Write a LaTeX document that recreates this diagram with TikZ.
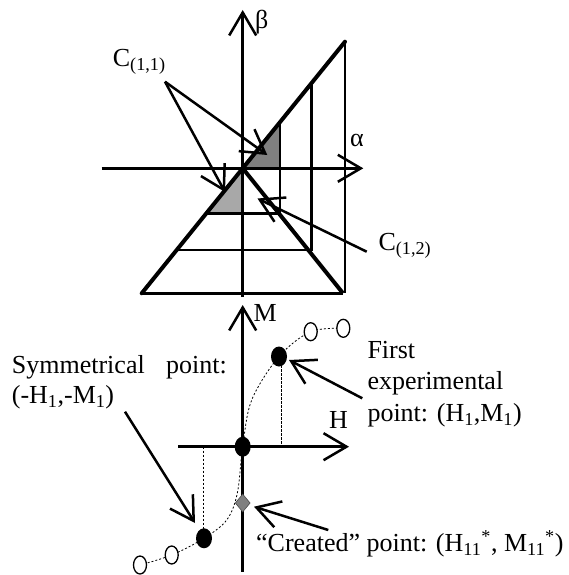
\documentclass[tikz,border=0pt]{standalone}
\usepackage{fontspec}
\setmainfont{Liberation Serif}
\usetikzlibrary{arrows.meta,shapes.geometric}
\definecolor{darkshade}{HTML}{808080}
\definecolor{lightshade}{HTML}{A8A8A8}
\definecolor{diamondgray}{HTML}{7F7F7F}
\begin{document}
\begin{tikzpicture}[x=1pt,y=-1pt,
  barb/.style={-{Straight Barb[length=23pt,width=27pt]}, line width=2.5pt},
  thinline/.style={line width=2.5pt},
  thickline/.style={line width=4pt},
  lbl/.style={inner sep=0pt, font=\fontsize{26}{31}\selectfont},
  fulldot/.style={ellipse, fill=black, minimum width=16pt, minimum height=20pt, inner sep=0pt},
  opendot/.style={ellipse, draw, fill=white, line width=1.3pt, minimum width=13pt, minimum height=18pt, inner sep=0pt},
  curve/.style={line width=0.8pt, dash pattern=on 2pt off 2pt},
  dropline/.style={line width=0.9pt, dash pattern=on 2.5pt off 1.5pt},
  gem/.style={diamond, fill=diamondgray, draw=black!70, line width=0.6pt, minimum width=15pt, minimum height=18pt, inner sep=0pt}
]
\useasboundingbox (0,0) rectangle (569,575);

% ---------- top figure ----------
\coordinate (O) at (242.7,168.3);
\coordinate (BL) at (141.7,293.3);
\coordinate (TR) at (345,41.7);
\coordinate (BR) at (343,293.3);
\coordinate (VB) at (345,293.3);
\coordinate (R1t) at (311.7,82.9);
\coordinate (R1b) at (311.7,250);
\coordinate (R1l) at (176.7,250);
\coordinate (R2t) at (280,122);
\coordinate (R2b) at (280,213.3);
\coordinate (R2l) at (206.3,213.3);
\coordinate (R2c) at (280,168.3);
\coordinate (R3b) at (242.7,213.3);

\fill[darkshade] (O) -- (R2t) -- (R2c) -- cycle;
\fill[lightshade] (O) -- (R3b) -- (R2l) -- cycle;

\draw[thinline] (TR) -- (VB);
\draw[thinline] (R1t) -- (R1b) -- (R1l);
\draw[thinline] (R2t) -- (R2b) -- (R2l);

\coordinate (bstart) at (242.7,297);
\coordinate (bend) at (242.7,10);
\coordinate (astart) at (101.7,168.3);
\coordinate (aend) at (363.3,168.3);
\draw[barb] (bstart) -- (bend);
\draw[barb] (astart) -- (aend);

\draw[thickline, line cap=round] (BL) -- (TR);
\draw[thickline] (O) -- (BR);
\draw[line width=3.5pt] (BL) -- (BR);

\node[lbl, anchor=base west] (beta) at (255,29) {β};
\node[lbl, anchor=base west] (alpha) at (350,146.7) {α};
\node[lbl, anchor=base west] (c11) at (112.7,66.7) {C\textsubscript{(1,1)}};
\node[lbl, anchor=base west] (c12) at (378.3,250) {C\textsubscript{(1,2)}};

\coordinate (c11tail) at (165,81.7);
\coordinate (c11tipA) at (267.3,155);
\coordinate (c11tipB) at (225,192);
\coordinate (c12tail) at (366.7,251.7);
\coordinate (c12tip) at (257.5,198.5);
\draw[barb] (c11tail) -- (c11tipA);
\draw[barb] (c11tail) -- (c11tipB);
\draw[barb] (c12tail) -- (c12tip);

% ---------- bottom figure ----------
\coordinate (Mstart) at (242.7,571.7);
\coordinate (Mend) at (242.7,305);
\coordinate (Hstart) at (178.3,446.7);
\coordinate (Hend) at (349,446.7);

\draw[curve] plot[smooth, tension=0.55] coordinates {(140,565) (171.7,555) (204,538.3) (226.7,520) (237.3,493.3) (242.7,446.7) (251.7,400) (279,356.5) (310.7,331.7) (343.3,328.3)};

\draw[dropline] (281,365) -- (281,446.7);
\draw[dropline] (203.3,446.7) -- (203.3,530);

\draw[barb] (Mstart) -- (Mend);
\draw[barb] (Hstart) -- (Hend);

\node[fulldot] (p0) at (242.7,446.7) {};
\node[fulldot] (p1) at (279,356.5) {};
\node[fulldot] (pm1) at (204,538.3) {};
\node[opendot] (u1) at (310.7,331.7) {};
\node[opendot] (u2) at (343.3,328.3) {};
\node[opendot] (l1) at (171.7,555) {};
\node[opendot] (l2) at (140,565) {};
\node[gem] (cr) at (242.7,503) {};

\node[lbl, anchor=base west] (Mlab) at (253.3,321.7) {M};
\node[lbl, anchor=base west] (Hlab) at (329,428.3) {H};

\node[lbl, anchor=base west] (first1) at (367.3,358.3) {First};
\node[lbl, anchor=base west] (first2) at (367.3,389.3) {experimental};
\node[lbl, anchor=base west] (first3) at (367.3,421.7) {point: (H\textsubscript{1},M\textsubscript{1})};

\node[lbl, anchor=base west] (sym1) at (11.7,373.3) {\makebox[215pt][s]{Symmetrical point:}};
\node[lbl, anchor=base west] (sym2) at (11.7,403.3) {(-H\textsubscript{1},-M\textsubscript{1})};

\node[lbl, anchor=base west] (crlab) at (256,551.7) {“Created” point: (H\textsubscript{11}\textsuperscript{*}, M\textsubscript{11}\textsuperscript{*})};

\coordinate (symtail) at (125,411.7);
\coordinate (symtip) at (195,523);
\coordinate (firsttail) at (362.3,398.3);
\coordinate (firsttip) at (289,360);
\coordinate (crtail) at (328.3,530);
\coordinate (crtip) at (254,506.7);
\draw[barb] (symtail) -- (symtip);
\draw[barb] (firsttail) -- (firsttip);
\draw[barb] (crtail) -- (crtip);
\end{tikzpicture}
\end{document}
